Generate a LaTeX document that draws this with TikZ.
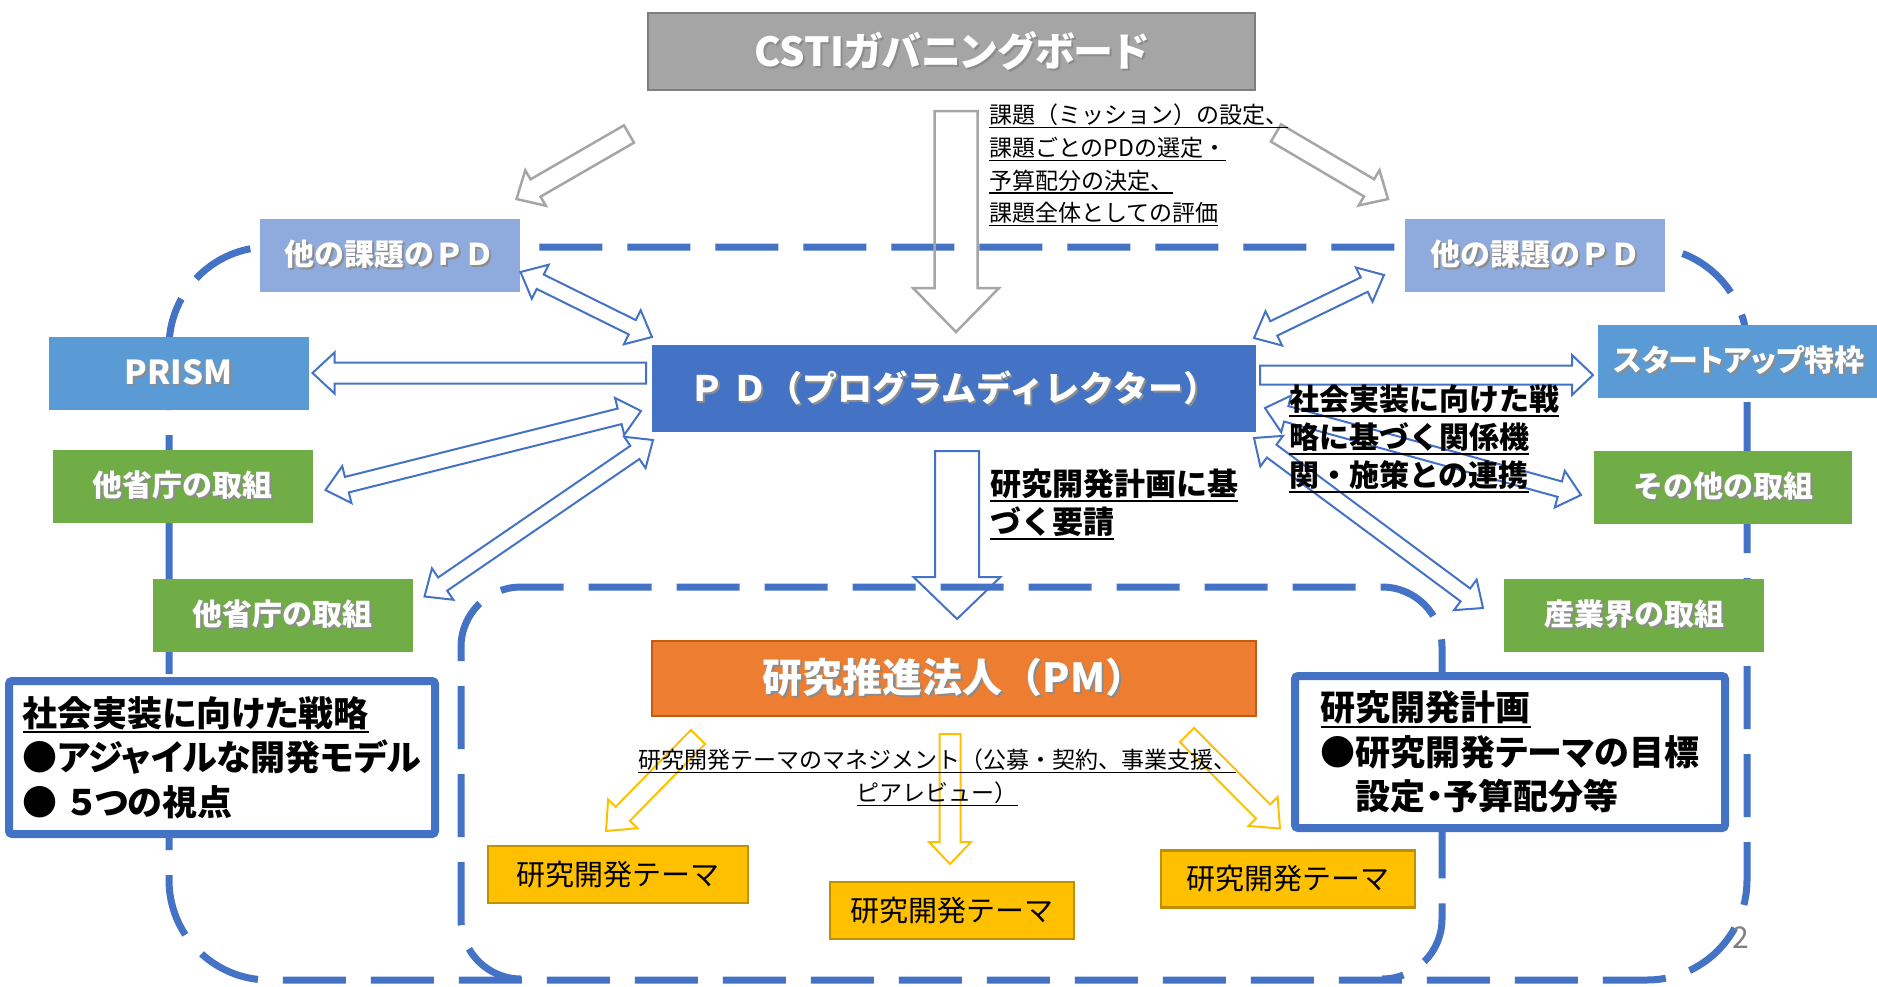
\documentclass[tikz,border=0pt]{standalone}
\usepackage{fontspec}
\setmainfont{Noto Sans CJK JP}
\newfontfamily\propfont{Noto Sans CJK JP}[RawFeature=+palt]
\usetikzlibrary{calc}

\definecolor{cstigray}{HTML}{A5A5A5}
\definecolor{cstiline}{HTML}{7F7F7F}
\definecolor{otherpd}{HTML}{8FAADC}
\definecolor{skyblue}{HTML}{5B9BD5}
\definecolor{leafgreen}{HTML}{70AD47}
\definecolor{pdblue}{HTML}{4472C4}
\definecolor{pmorange}{HTML}{ED7D31}
\definecolor{pmline}{HTML}{C55A11}
\definecolor{themegold}{HTML}{FFC000}
\definecolor{themeline}{HTML}{BF9000}
\definecolor{arrowgray}{HTML}{A6A6A6}
\definecolor{pagegray}{HTML}{7F7F7F}

\newcommand\fsz[2]{\fontsize{#1}{#2}\selectfont}
\newcommand\shadowed[1]{\makebox[0pt][l]{\kern2pt\raisebox{-2pt}{\color{black!45}#1}}#1}
\newcommand\uln[1]{\setbox0\hbox{#1}\rlap{\rule[-0.2em]{\wd0}{0.06em}}\box0}

% hollow arrow: [style]{from}{to}{half shaft}{half head}{head length}
\newcommand\hollowarrow[6][]{%
  \coordinate (arA) at (#2);
  \coordinate (arB) at (#3);
  \coordinate (arH) at ($(arB)!#6!(arA)$);
  \draw[#1] ($(arA)!#4!90:(arB)$) -- ($(arH)!#4!90:(arB)$) -- ($(arH)!#5!90:(arB)$)
    -- (arB) -- ($(arH)!#5!-90:(arB)$) -- ($(arH)!#4!-90:(arB)$)
    -- ($(arA)!#4!-90:(arB)$) -- cycle;
}
\newcommand\hollowdarrow[6][]{%
  \coordinate (arA) at (#2);
  \coordinate (arB) at (#3);
  \coordinate (arG) at ($(arA)!#6!(arB)$);
  \coordinate (arH) at ($(arB)!#6!(arA)$);
  \draw[#1] (arA) -- ($(arG)!#5!90:(arB)$) -- ($(arG)!#4!90:(arB)$)
    -- ($(arH)!#4!90:(arB)$) -- ($(arH)!#5!90:(arB)$) -- (arB)
    -- ($(arH)!#5!-90:(arB)$) -- ($(arH)!#4!-90:(arB)$)
    -- ($(arG)!#4!-90:(arB)$) -- ($(arG)!#5!-90:(arB)$) -- cycle;
}

\begin{document}
\begin{tikzpicture}[x=1pt,y=-1pt,
    box/.style={inner sep=0pt, outer sep=0pt, text=white, font=\bfseries\fsz{30}{36}},
    tagbox/.style={box, minimum width=260pt, minimum height=73pt},
    framebox/.style={fill=white, draw=pdblue, line width=8pt, rounded corners=3pt,
      inner sep=0pt, outer sep=0pt, align=left, text=black, font=\propfont\bfseries\fsz{35}{44.5}},
    themebox/.style={fill=themegold, draw=themeline, line width=2.5pt, inner sep=0pt,
      outer sep=0pt, minimum height=57pt, text=black, font=\fsz{29}{34}},
    note/.style={inner sep=0pt, outer sep=0pt, text=black},
    dashline/.style={draw=pdblue, line width=7pt, dash pattern=on 63pt off 25pt},
    bluearrow/.style={draw=pdblue, line width=2pt},
    grayarrow/.style={draw=arrowgray, line width=2.5pt},
    goldarrow/.style={draw=themegold, line width=2pt}]
  \useasboundingbox (0,0) rectangle (1877,986);

  % dashed regions
  \draw[dashline, rounded corners=100pt] (169,247) rectangle (1747,980);
  \draw[dashline, rounded corners=60pt] (521,979) -- (461,979) -- (461,587)
    -- (1442,587) -- (1442,979) -- (1382,979);

  % boxes
  \node[box, fill=cstigray, draw=cstiline, line width=2pt, minimum width=607pt,
    minimum height=77pt, font=\propfont\bfseries\fsz{40}{48}] (csti) at (951.5,51.5) {\shadowed{CSTIガバニングボード}};
  \node[tagbox, fill=otherpd] (pdL) at (389.5,255.5) {\shadowed{他の課題のＰＤ}};
  \node[tagbox, fill=otherpd] (pdR) at (1535,255.5) {\shadowed{他の課題のＰＤ}};
  \node[tagbox, fill=skyblue, font=\bfseries\fsz{33}{38}] (prism) at (178.5,373) {\shadowed{PRISM}};
  \node[tagbox, fill=leafgreen] (minL1) at (182.5,486.5) {\shadowed{他省庁の取組}};
  \node[tagbox, fill=leafgreen] (minL2) at (282.5,615) {\shadowed{他省庁の取組}};
  \node[tagbox, fill=skyblue, minimum width=282pt, font=\propfont\bfseries\fsz{30}{36}] (startup) at (1739,361.5) {\shadowed{スタートアップ特枠}};
  \node[tagbox, fill=leafgreen, minimum width=258pt] (other) at (1723,487) {\shadowed{その他の取組}};
  \node[tagbox, fill=leafgreen] (industry) at (1634,615) {\shadowed{産業界の取組}};
  \node[box, fill=pdblue, minimum width=604pt, minimum height=87pt,
    font=\bfseries\fsz{35}{42}] (pd) at (954,388.5) {\shadowed{Ｐ Ｄ（プログラムディレクター）}};
  \node[box, fill=pmorange, draw=pmline, line width=2pt, minimum width=604pt,
    minimum height=75pt, font=\bfseries\fsz{40}{46}] (pm) at (954,678.5) {\shadowed{研究推進法人（PM）}};
  \node[themebox, minimum width=260pt] (themeL) at (618,874.5) {研究開発テーマ};
  \node[themebox, minimum width=244pt] (themeM) at (952,910.5) {研究開発テーマ};
  \node[themebox, minimum width=254pt] (themeR) at (1288,879) {研究開発テーマ};
  \node[framebox, minimum width=426pt, minimum height=153pt] (strat) at (222,757.5)
    {\uln{社会実装に向けた戦略}\\●アジャイルな開発モデル\\●\kern0.3em５つの視点};
  \node[framebox, minimum width=430pt, minimum height=152pt] (plan) at (1510,752)
    {\uln{研究開発計画}\\●研究開発テーマの目標\\\phantom{●}設定・予算配分等};

  % arrows
  \hollowarrow[grayarrow]{[shift={(4.5,21)}]csti.south}{[shift={(2,-13)}]pd.north}{21.5pt}{43pt}{44pt}
  \hollowarrow[grayarrow]{[shift={(-19,44)}]csti.south west}{[shift={(-3,-20)}]pdL.north east}{10pt}{20.5pt}{22pt}
  \hollowarrow[grayarrow]{[shift={(21,43)}]csti.south east}{[shift={(-17,-20)}]pdR.north west}{10pt}{20.5pt}{22pt}
  \hollowarrow[bluearrow]{[shift={(-6,-15.5)}]pd.west}{[shift={(4,0)}]prism.east}{10.5pt}{20.5pt}{22pt}
  \hollowarrow[bluearrow]{[shift={(4,-13.5)}]pd.east}{[shift={(-5,13.5)}]startup.west}{9.5pt}{20pt}{21pt}
  \hollowarrow[bluearrow]{[shift={(3,19)}]pd.south}{[shift={(3,-22)}]pm.north}{22pt}{43.5pt}{42pt}
  \hollowdarrow[bluearrow]{[shift={(1,-20)}]pdL.south east}{[shift={(0,-8)}]pd.north west}{8pt}{19pt}{22pt}
  \hollowdarrow[bluearrow]{[shift={(-11,-21)}]pd.south west}{[shift={(13,3.5)}]minL1.east}{8pt}{19pt}{22pt}
  \hollowdarrow[bluearrow]{[shift={(1,8)}]pd.south west}{[shift={(12,18)}]minL2.north east}{8pt}{19pt}{22pt}
  \hollowdarrow[bluearrow]{[shift={(-2,-7)}]pd.north east}{[shift={(-21,-17)}]pdR.south west}{8pt}{19pt}{22pt}
  \hollowdarrow[bluearrow]{[shift={(9,19.5)}]pd.east}{[shift={(-13,8)}]other.west}{8pt}{19pt}{22pt}
  \hollowdarrow[bluearrow]{[shift={(-2,6)}]pd.south east}{[shift={(-21,-7)}]industry.west}{8pt}{19pt}{22pt}
  \hollowarrow[goldarrow]{[shift={(46,21)}]pm.south west}{[shift={(-12,-15)}]themeL.north}{10pt}{20.5pt}{24pt}
  \hollowarrow[goldarrow]{[shift={(-4,18)}]pm.south}{[shift={(-2,-18)}]themeM.north}{10.5pt}{21pt}{22pt}
  \hollowarrow[goldarrow]{[shift={(-69,19)}]pm.south east}{[shift={(-8,-22)}]themeR.north}{10pt}{20.5pt}{24pt}

  % texts
  \node[note, anchor=north west, align=left, font=\fsz{23}{32.7}] (mission) at (989,104)
    {\uln{課題（ミッション）の設定、}\\\uln{課題ごとのPDの選定・}\\\uln{予算配分の決定、}\\\uln{課題全体としての評価}};
  \node[note, anchor=north west, align=left, font=\bfseries\fsz{31}{38}] (request) at (990,469)
    {\uln{研究開発計画に基}\\\uln{づく要請}};
  \node[note, anchor=north west, align=left, font=\bfseries\fsz{30}{38}] (coop) at (1289,385)
    {\uln{社会実装に向けた戦}\\\uln{略に基づく関係機}\\\uln{関・施策との連携}};
  \node[note, anchor=north, align=center, font=\fsz{23}{33}] (mgmt) at (937,749)
    {\uln{研究開発テーマのマネジメント（公募・契約、事業支援、}\\\uln{ピアレビュー）}};
  \node[note, text=pagegray, font=\fsz{30}{36}] (page) at (1741,938) {2};
\end{tikzpicture}
\end{document}
